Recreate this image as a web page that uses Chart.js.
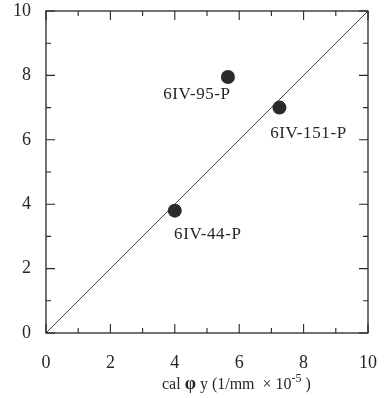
<!DOCTYPE html>
<html>
<head>
<meta charset="utf-8">
<script src="https://cdn.jsdelivr.net/npm/chart.js@4"></script>
<style>
html,body{margin:0;padding:0;background:#fff;}
#wrap{width:386px;height:398px;position:relative;}
</style>
</head>
<body>
<div id="wrap"><canvas id="c" width="386" height="398"></canvas></div>
<script>
const pointLabels = ['6IV-95-P', '6IV-151-P', '6IV-44-P'];
const xValues = [5.65, 7.25, 4.0];
const yValues = [7.95, 7.0, 3.8];
const lineX = [0, 10];
const lineY = [0, 10];
const tickValues = [0, 2, 4, 6, 8, 10];
const minorTickValues = [1, 3, 5, 7, 9];
const xTitleParts = ['cal ', '\u03c6', ' y (1/mm  \u00d7 10', '-5', ' )'];

const labelOffsets = [[-31, 18], [29, 26], [33, 24]];
const ink = '#262626';
const serif = '"Liberation Serif", "DejaVu Serif", serif';

const pointData = xValues.map((x, i) => ({x: x, y: yValues[i]}));
const lineData = lineX.map((x, i) => ({x: x, y: lineY[i]}));

const framePlugin = {
  id: 'frame',
  afterDatasetsDraw(chart) {
    const ctx = chart.ctx;
    const xs = chart.scales.x, ys = chart.scales.y;
    const a = chart.chartArea;
    ctx.save();
    ctx.strokeStyle = ink;
    ctx.lineWidth = 1.3;
    ctx.strokeRect(a.left, a.top, a.right - a.left, a.bottom - a.top);
    ctx.lineWidth = 1.1;
    const drawTicks = (vals, len) => {
      vals.forEach(v => {
        const px = xs.getPixelForValue(v);
        const py = ys.getPixelForValue(v);
        ctx.beginPath();
        ctx.moveTo(px, a.bottom); ctx.lineTo(px, a.bottom - len);
        ctx.moveTo(px, a.top); ctx.lineTo(px, a.top + len);
        ctx.moveTo(a.left, py); ctx.lineTo(a.left + len, py);
        ctx.moveTo(a.right, py); ctx.lineTo(a.right - len, py);
        ctx.stroke();
      });
    };
    drawTicks(tickValues, 9);
    drawTicks(minorTickValues, 5);

    // point labels
    ctx.fillStyle = ink;
    ctx.font = '17px ' + serif;
    if ('letterSpacing' in ctx) ctx.letterSpacing = '0.6px';
    ctx.textAlign = 'center';
    ctx.textBaseline = 'middle';
    const meta = chart.getDatasetMeta(0);
    meta.data.forEach((el, i) => {
      ctx.fillText(pointLabels[i], el.x + labelOffsets[i][0], el.y + labelOffsets[i][1]);
    });
    if ('letterSpacing' in ctx) ctx.letterSpacing = '0px';

    // x axis title
    ctx.textAlign = 'left';
    ctx.textBaseline = 'alphabetic';
    const fonts = ['16px ' + serif, 'bold 18px ' + serif, '16px ' + serif, '12px ' + serif, '16px ' + serif];
    const rises = [0, 0, 0, 7, 0];
    let tx = 162;
    const ty = 389;
    xTitleParts.forEach((t, i) => {
      ctx.font = fonts[i];
      ctx.fillText(t, tx, ty - rises[i]);
      tx += ctx.measureText(t).width;
    });
    ctx.restore();
  }
};

new Chart(document.getElementById('c'), {
  type: 'scatter',
  data: {
    datasets: [
      {
        data: pointData,
        pointRadius: 7,
        pointHoverRadius: 7,
        pointBackgroundColor: '#2b2b2b',
        pointBorderColor: '#2b2b2b',
        borderWidth: 0,
        showLine: false,
        order: 0
      },
      {
        data: lineData,
        showLine: true,
        pointRadius: 0,
        borderColor: '#3a3a3a',
        borderWidth: 1,
        fill: false,
        order: 1
      }
    ]
  },
  options: {
    responsive: false,
    animation: false,
    events: [],
    layout: {padding: {top: 11, right: 18, left: 0, bottom: 0}},
    plugins: {legend: {display: false}, tooltip: {enabled: false}},
    scales: {
      x: {
        type: 'linear', min: 0, max: 10,
        afterBuildTicks(s) { s.ticks = tickValues.map(v => ({value: v})); },
        grid: {display: false, drawTicks: false},
        border: {display: false},
        ticks: {color: ink, font: {family: serif, size: 18}, padding: 19, maxRotation: 0},
        afterFit(s) { s.height = 65; s.paddingLeft = 0; s.paddingRight = 0; s.paddingTop = 0; s.paddingBottom = 0; }
      },
      y: {
        type: 'linear', min: 0, max: 10,
        afterBuildTicks(s) { s.ticks = tickValues.map(v => ({value: v})); },
        grid: {display: false, drawTicks: false},
        border: {display: false},
        ticks: {color: ink, font: {family: serif, size: 18}, padding: 15},
        afterFit(s) { s.width = 46; s.paddingLeft = 0; s.paddingRight = 0; s.paddingTop = 0; s.paddingBottom = 0; }
      }
    }
  },
  plugins: [framePlugin]
});
</script>
</body>
</html>
